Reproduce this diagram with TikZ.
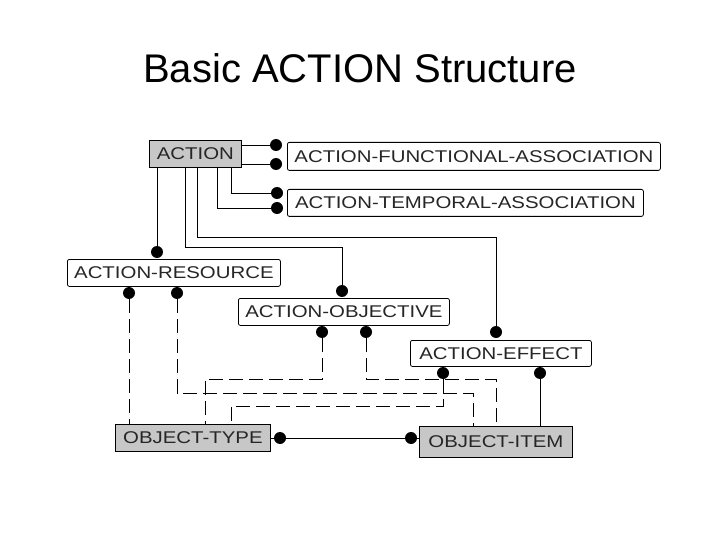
\documentclass[tikz,border=0pt]{standalone}
\usepackage{fontspec}
\setmainfont{Liberation Sans}
\newfontfamily\boxfont{Liberation Sans}[FakeStretch=1.2]
\begin{document}
\begin{tikzpicture}[x=1pt,y=-1pt,
 box/.style={draw,line width=0.8pt,rounded corners=2pt,anchor=north west,inner sep=0pt,font=\boxfont\fontsize{17}{17}\selectfont,text=black!85},
 gbox/.style={box,fill=black!22,rounded corners=0pt},
 dot/.style={circle,fill=black,inner sep=0pt,minimum width=11pt,minimum height=12pt},
 ln/.style={line width=0.9pt},
 dl/.style={line width=0.9pt,dash pattern=on 14pt off 6pt}]
\useasboundingbox (0,0) rectangle (720,540);
\node at (360,68) {\fontsize{40}{40}\selectfont Basic ACTION Structure};
\node[gbox,minimum width=92pt,minimum height=27pt] (act) at (149,140) {ACTION};
\node[box,minimum width=373pt,minimum height=28pt] (afa) at (287,142) {ACTION-FUNCTIONAL-ASSOCIATION};
\node[box,minimum width=356pt,minimum height=27pt] (ata) at (287,189) {ACTION-TEMPORAL-ASSOCIATION};
\node[box,minimum width=213pt,minimum height=27pt] (ar) at (67,259) {ACTION-RESOURCE};
\node[box,minimum width=211pt,minimum height=27pt] (ao) at (238,298) {ACTION-OBJECTIVE};
\node[box,minimum width=181pt,minimum height=26pt] (ae) at (410,340) {ACTION-EFFECT};
\node[gbox,minimum width=155pt,minimum height=27pt] (ot) at (115,424) {OBJECT-TYPE};
\node[gbox,minimum width=153pt,minimum height=31pt] (oi) at (419,426) {OBJECT-ITEM};
% dots
\node[dot] (d1) at (276,145) {};
\node[dot] (d2) at (276,164) {};
\node[dot] (d3) at (277,193) {};
\node[dot] (d4) at (277,208) {};
\node[dot] (d5) at (157,252) {};
\node[dot] (d6) at (342,291) {};
\node[dot] (d7) at (496,332) {};
\node[dot] (r1) at (129,293) {};
\node[dot] (r2) at (177,293) {};
\node[dot] (o1) at (322,332) {};
\node[dot] (o2) at (366,332) {};
\node[dot] (e1) at (443,373) {};
\node[dot] (e2) at (540,373) {};
\node[dot] (t1) at (280,438) {};
\node[dot] (i1) at (411,438) {};
% solid connectors
\draw[ln] (act.east |- d1) -- (d1);
\draw[ln] (act.east |- d2) -- (d2);
\draw[ln] (231,167) |- (d3);
\draw[ln] (217,167) |- (d4);
\draw[ln] (d5 |- act.south) -- (d5);
\draw[ln] (185,167) |- (342,247) -- (d6);
\draw[ln] (197,167) |- (496,237) -- (d7);
\draw[ln] (ot.east |- t1) -- (t1) -- (i1) -- (oi.west |- i1);
\draw[ln] (e2) -- (e2 |- oi.north);
% dashed connectors
\draw[dl] (r1) -- (r1 |- ot.north);
\draw[dl] (r2) |- (473,393) -- (473,426);
\draw[dl] (o1) |- (205,379) -- (205,424);
\draw[dl] (o2) |- (496,379) -- (496,426);
\draw[dl] (e1) |- (231,406) -- (231,424);
\end{tikzpicture}
\end{document}
